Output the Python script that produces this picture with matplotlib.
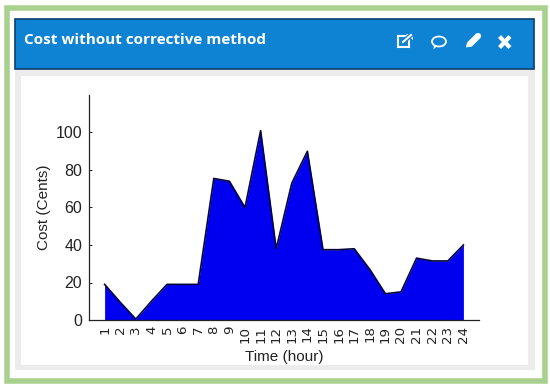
"""Cost without corrective method, redrawn as a dashboard panel."""
import matplotlib
matplotlib.use("Agg")
import matplotlib.pyplot as plt
from matplotlib.patches import Ellipse, Polygon, Rectangle

W, H = 550, 387

hours = list(range(1, 25))
cost = [19, 9.5, 0.5, 10, 19, 19, 19, 75.5, 74, 60, 101, 38,
        73, 90, 37.5, 37.5, 38, 27, 14, 15, 33, 31.5, 31.5, 40]
y_ticks = [0, 20, 40, 60, 80, 100]
title = "Cost without corrective method"
x_label = "Time (hour)"
y_label = "Cost (Cents)"

plt.rcParams["font.family"] = ["Liberation Sans", "DejaVu Sans"]

fig = plt.figure(figsize=(W / 100, H / 100), dpi=100, facecolor="white")

# frame and header are drawn in pixel coordinates on a background axes
bg = fig.add_axes([0, 0, 1, 1])
bg.set_xlim(0, W)
bg.set_ylim(H, 0)
bg.axis("off")


def box(x0, y0, x1, y1, **kw):
    bg.add_patch(Rectangle((x0, y0), x1 - x0, y1 - y0, **kw))


box(6.5, 7.5, 544.5, 380.5, fc="white", ec="#a9d18e", lw=4)
box(15, 69, 535, 370, fc="#ececec", ec="none")
box(21, 76, 528, 365, fc="white", ec="none")
box(15, 18.5, 534, 69, fc="#0f83d3", ec="#0b3f6e", lw=1.2)
bg.text(24, 40, title, color="white", fontsize=11, fontweight="bold",
        family="Open Sans", va="center", ha="left")

# icons: open-in-new, comment, pencil, close
box(398, 36, 409, 47, fc="none", ec="white", lw=1.5)
bg.plot([403, 411], [42, 35], color="#0f83d3", lw=3.5)
bg.plot([403, 411], [42, 35], color="white", lw=1.5)
bg.add_patch(Polygon([[406, 34], [412.5, 34], [412.5, 40]], fc="white", ec="none"))
bg.add_patch(Ellipse((439, 41.5), 14, 10, fc="none", ec="white", lw=1.3))
bg.add_patch(Polygon([[434, 45], [437, 46], [433.5, 49.5]], fc="white", ec="none"))
bg.plot([470, 478], [44, 36], color="white", lw=4.5, solid_capstyle="round")
bg.add_patch(Polygon([[466, 47.5], [467, 42.5], [471, 46.5]], fc="white", ec="none"))
bg.plot([501, 508.5], [38, 46], color="white", lw=3)
bg.plot([501, 508.5], [46, 38], color="white", lw=3)

# chart axes, 0..25 by 0..120
ax = fig.add_axes([89 / W, 1 - 320 / H, (479 - 89) / W, (320 - 95) / H])
ax.patch.set_alpha(0)
ax.fill_between(hours, cost, 0, color="#0000f0", lw=0)
ax.plot(hours, cost, color="#06063a", lw=1.2)
ax.set_xlim(0, 25)
ax.set_ylim(0, 120)
ax.set_xticks(hours)
ax.set_xticklabels([str(h) for h in hours], rotation=90, fontsize=9.6,
                   color="#222222", family="DejaVu Sans")
ax.set_yticks(y_ticks)
ax.tick_params(axis="x", length=0, pad=4)
ax.tick_params(axis="y", length=2, direction="in", width=0.6, labelsize=11.5,
               labelcolor="#222222", pad=5)
for side in ("top", "right"):
    ax.spines[side].set_visible(False)
for side in ("left", "bottom"):
    ax.spines[side].set_linewidth(0.9)
    ax.spines[side].set_color("#222222")
ax.set_xlabel(x_label, fontsize=11, color="#222222", labelpad=5)
ax.set_ylabel(y_label, fontsize=11, color="#222222", labelpad=3)

fig.savefig("out.png", dpi=100)
